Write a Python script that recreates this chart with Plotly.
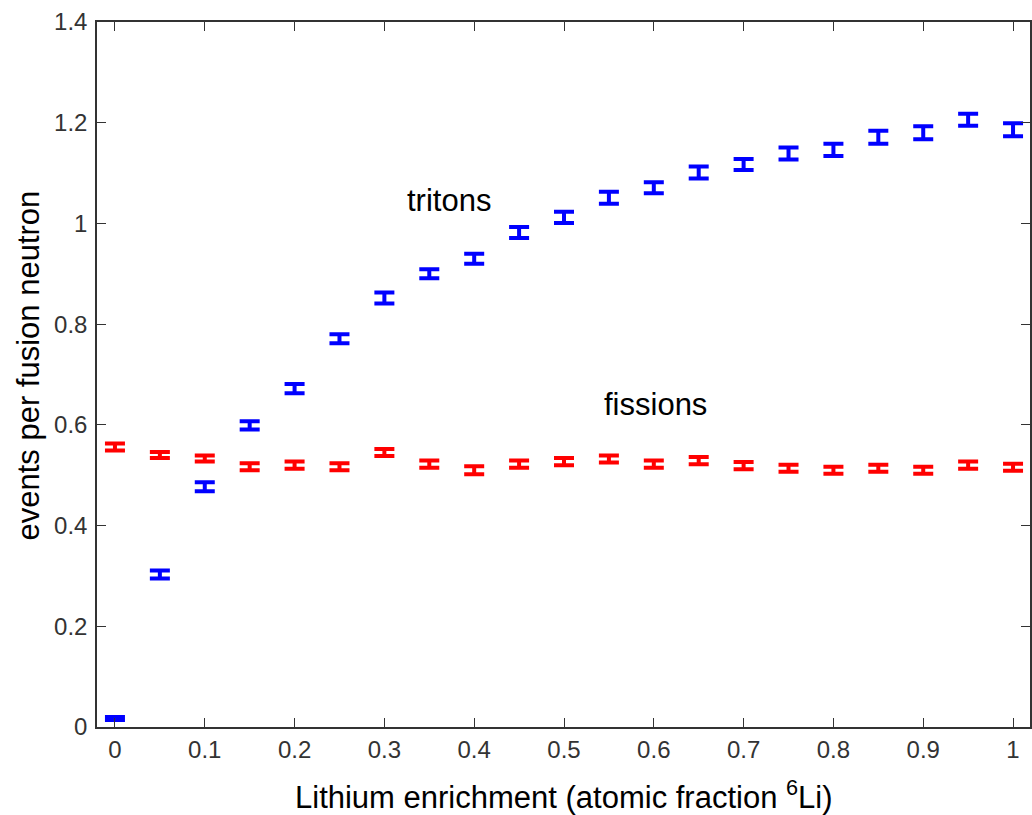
import plotly.graph_objects as go

enrichment = [0.0, 0.05, 0.10, 0.15, 0.20, 0.25, 0.30, 0.35, 0.40, 0.45, 0.50,
              0.55, 0.60, 0.65, 0.70, 0.75, 0.80, 0.85, 0.90, 0.95, 1.00]

tritons = [0.017, 0.303, 0.477, 0.599, 0.672, 0.771, 0.852, 0.900, 0.930, 0.982, 1.012,
           1.051, 1.071, 1.101, 1.117, 1.139, 1.146, 1.171, 1.180, 1.206, 1.186]
tritons_err = [0.003, 0.008, 0.009, 0.008, 0.009, 0.009, 0.011, 0.009, 0.010, 0.011, 0.011,
               0.012, 0.011, 0.012, 0.011, 0.012, 0.012, 0.013, 0.013, 0.012, 0.013]

fissions = [0.556, 0.540, 0.533, 0.517, 0.520, 0.517, 0.545, 0.522, 0.510, 0.522, 0.527,
            0.532, 0.522, 0.529, 0.519, 0.514, 0.510, 0.514, 0.510, 0.520, 0.516]
fissions_err = [0.007, 0.006, 0.006, 0.007, 0.007, 0.007, 0.007, 0.007, 0.008, 0.007, 0.007,
                0.007, 0.007, 0.007, 0.007, 0.007, 0.007, 0.007, 0.007, 0.007, 0.007]

x_ticks = [0, 0.1, 0.2, 0.3, 0.4, 0.5, 0.6, 0.7, 0.8, 0.9, 1.0]
x_ticklabels = ["0", "0.1", "0.2", "0.3", "0.4", "0.5", "0.6", "0.7", "0.8", "0.9", "1"]
y_ticks = [0, 0.2, 0.4, 0.6, 0.8, 1.0, 1.2, 1.4]
y_ticklabels = ["0", "0.2", "0.4", "0.6", "0.8", "1", "1.2", "1.4"]

FONT = "Liberation Sans, Arial, Helvetica, sans-serif"
LABEL_SIZE = 31

fig = go.Figure()

for ys, errs, col in [(tritons, tritons_err, "#0000FF"), (fissions, fissions_err, "#FF0000")]:
    fig.add_trace(go.Scatter(
        x=enrichment, y=ys, mode="markers",
        marker=dict(size=1, color="rgba(0,0,0,0)"),
        error_y=dict(type="data", array=errs, symmetric=True, color=col,
                     thickness=4, width=10),
        showlegend=False, hoverinfo="skip",
    ))

axis_common = dict(
    showgrid=False, zeroline=False, showline=True, linecolor="#333333", linewidth=1.5,
    mirror="ticks", ticks="inside", ticklen=9, tickwidth=1.3, tickcolor="#333333",
    tickfont=dict(family=FONT, size=24, color="#333333"),
)

fig.update_xaxes(range=[-0.02, 1.01889], tickmode="array", tickvals=x_ticks,
                 ticktext=x_ticklabels, ticklabelstandoff=0, **axis_common)
fig.update_yaxes(range=[0, 1.4], tickmode="array", tickvals=y_ticks,
                 ticktext=y_ticklabels, ticklabelstandoff=3, **axis_common)

fig.add_annotation(text="tritons", x=0.323, y=1.046, xref="x", yref="y",
                   xanchor="left", yanchor="middle", showarrow=False,
                   font=dict(family=FONT, size=LABEL_SIZE, color="black"))
fig.add_annotation(text="fissions", x=0.542, y=0.641, xref="x", yref="y",
                   xanchor="left", yanchor="middle", showarrow=False,
                   font=dict(family=FONT, size=LABEL_SIZE, color="black"))

fig.add_annotation(text="Lithium enrichment (atomic fraction <sup>6</sup>Li)",
                   x=0.5, y=0, xref="paper", yref="paper", yshift=-68,
                   xanchor="center", yanchor="middle", showarrow=False,
                   font=dict(family=FONT, size=LABEL_SIZE, color="black"))
fig.add_annotation(text="events per fusion neutron", textangle=-90,
                   x=0, y=0.5, xref="paper", yref="paper", xshift=-69, yshift=9,
                   xanchor="center", yanchor="middle", showarrow=False,
                   font=dict(family=FONT, size=LABEL_SIZE, color="black"))

fig.update_layout(
    width=1032, height=815,
    margin=dict(l=97, r=0, t=22, b=88, pad=0),
    paper_bgcolor="white", plot_bgcolor="white",
)

fig.write_html("out.html")
